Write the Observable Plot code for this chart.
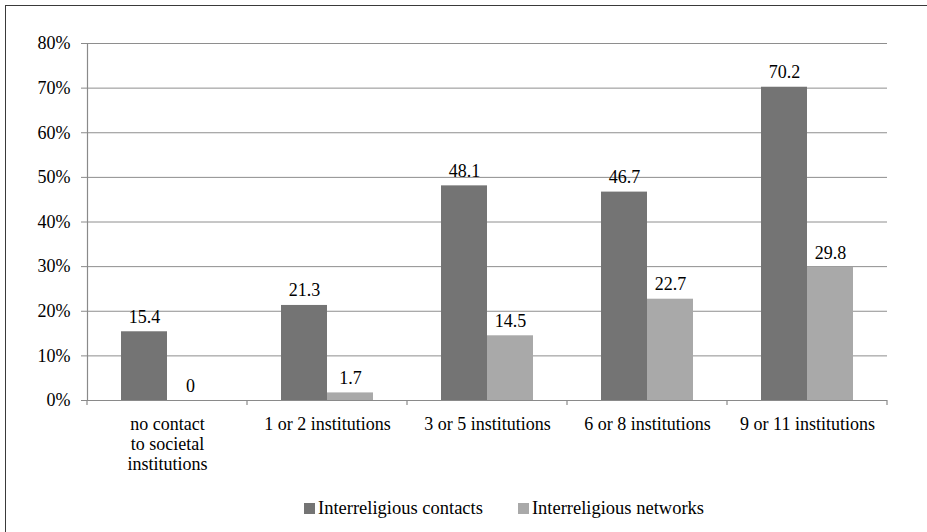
<!DOCTYPE html>
<html>
<head>
<meta charset="utf-8">
<script src="https://cdn.jsdelivr.net/npm/d3@7"></script>
<script src="https://cdn.jsdelivr.net/npm/@observablehq/plot@0.6"></script>
<style>
  html, body { margin: 0; padding: 0; background: #fff; }
  #wrap { position: relative; width: 927px; height: 532px; overflow: hidden; font-family: 'Liberation Serif', 'DejaVu Serif', serif; }
  #border { position: absolute; left: 5px; top: 5px; width: 940px; height: 540px; border-left: 1.5px solid #3a3a3a; border-top: 1.5px solid #3a3a3a; box-sizing: border-box; }
  #chart { position: absolute; left: 0; top: 0; }
  #legend { position: absolute; left: 304px; top: 498px; display: flex; gap: 35px; font-size: 18.5px; line-height: 20px; color: #000; font-family: 'Liberation Serif', 'DejaVu Serif', serif; }
  #legend .item { display: flex; align-items: center; gap: 3px; }
  #legend .sw { width: 11px; height: 11px; display: inline-block; }
  #chart svg, #chart svg text { font-family: 'Liberation Serif', 'DejaVu Serif', serif !important; }
</style>
</head>
<body>
<div id="wrap">
  <div id="border"></div>
  <div id="chart"></div>
  <div id="legend"></div>
</div>
<script>
const categories = ["no contact to societal institutions", "1 or 2 institutions", "3 or 5 institutions", "6 or 8 institutions", "9 or 11 institutions"];
const categoryLabels = ["no contact\nto societal\ninstitutions", "1 or 2 institutions", "3 or 5 institutions", "6 or 8 institutions", "9 or 11 institutions"];
const series = ["Interreligious contacts", "Interreligious networks"];
const contacts = [15.4, 21.3, 48.1, 46.7, 70.2];
const networks = [0, 1.7, 14.5, 22.7, 29.8];
const yTicks = [0, 10, 20, 30, 40, 50, 60, 70, 80];
const colors = ["#747474", "#a9a9a9"];

const rows = categories.flatMap((c, i) => [
  {category: c, series: series[0], value: contacts[i]},
  {category: c, series: series[1], value: networks[i]}
]);
const labelOf = new Map(categories.map((c, i) => [c, categoryLabels[i]]));

const chart = Plot.plot({
  width: 927,
  height: 490,
  marginLeft: 86,
  marginRight: 40,
  marginTop: 43,
  marginBottom: 90,
  style: {fontFamily: "'Liberation Serif', 'DejaVu Serif', serif", fontSize: "18px", color: "#000", background: "transparent"},
  fx: {domain: categories, padding: 0},
  x: {domain: series, paddingInner: 0, paddingOuter: 0.73, axis: null},
  y: {domain: [0, 80]},
  color: {domain: series, range: colors},
  marks: [
    Plot.gridY(yTicks.filter(d => d > 0), {stroke: "#8e8e8e", strokeOpacity: 1, strokeWidth: 1}),
    Plot.barY(rows, {fx: "category", x: "series", y: "value", fill: "series"}),
    Plot.ruleY([0], {stroke: "#8a8a8a", strokeWidth: 1.2}),
    Plot.frame({anchor: "left", facetAnchor: "left", stroke: "#8a8a8a", strokeWidth: 1.2}),
    Plot.text(rows, {fx: "category", x: "series", y: "value", text: d => String(d.value), lineAnchor: "bottom", dy: -9, fill: "#000", fontSize: 18}),
    Plot.axisY({ticks: yTicks, tickFormat: d => d + "%", tickSize: 6, tickPadding: 11, stroke: "#8a8a8a", fontSize: 18, label: null}),
    Plot.axisFx({anchor: "bottom", tickSize: 0, tickPadding: 15, tickFormat: d => labelOf.get(d), lineHeight: 1.12, fontSize: 18, label: null})
  ]
});

const fx = chart.scale("fx");
const y = chart.scale("y");
const svg = d3.select(chart);
const bounds = categories.map(c => fx.apply(c)).concat([fx.range[1]]);
const y0 = y.apply(0);
svg.append("g")
  .attr("stroke", "#8a8a8a")
  .attr("stroke-width", 1.2)
  .selectAll("line")
  .data(bounds)
  .join("line")
  .attr("x1", d => d).attr("x2", d => d)
  .attr("y1", y0).attr("y2", y0 + 5);

document.getElementById("chart").appendChild(chart);

const legend = d3.select("#legend");
series.forEach((s, i) => {
  const item = legend.append("div").attr("class", "item");
  item.append("span").attr("class", "sw").style("background", colors[i]);
  item.append("span").text(s);
});
</script>
</body>
</html>
